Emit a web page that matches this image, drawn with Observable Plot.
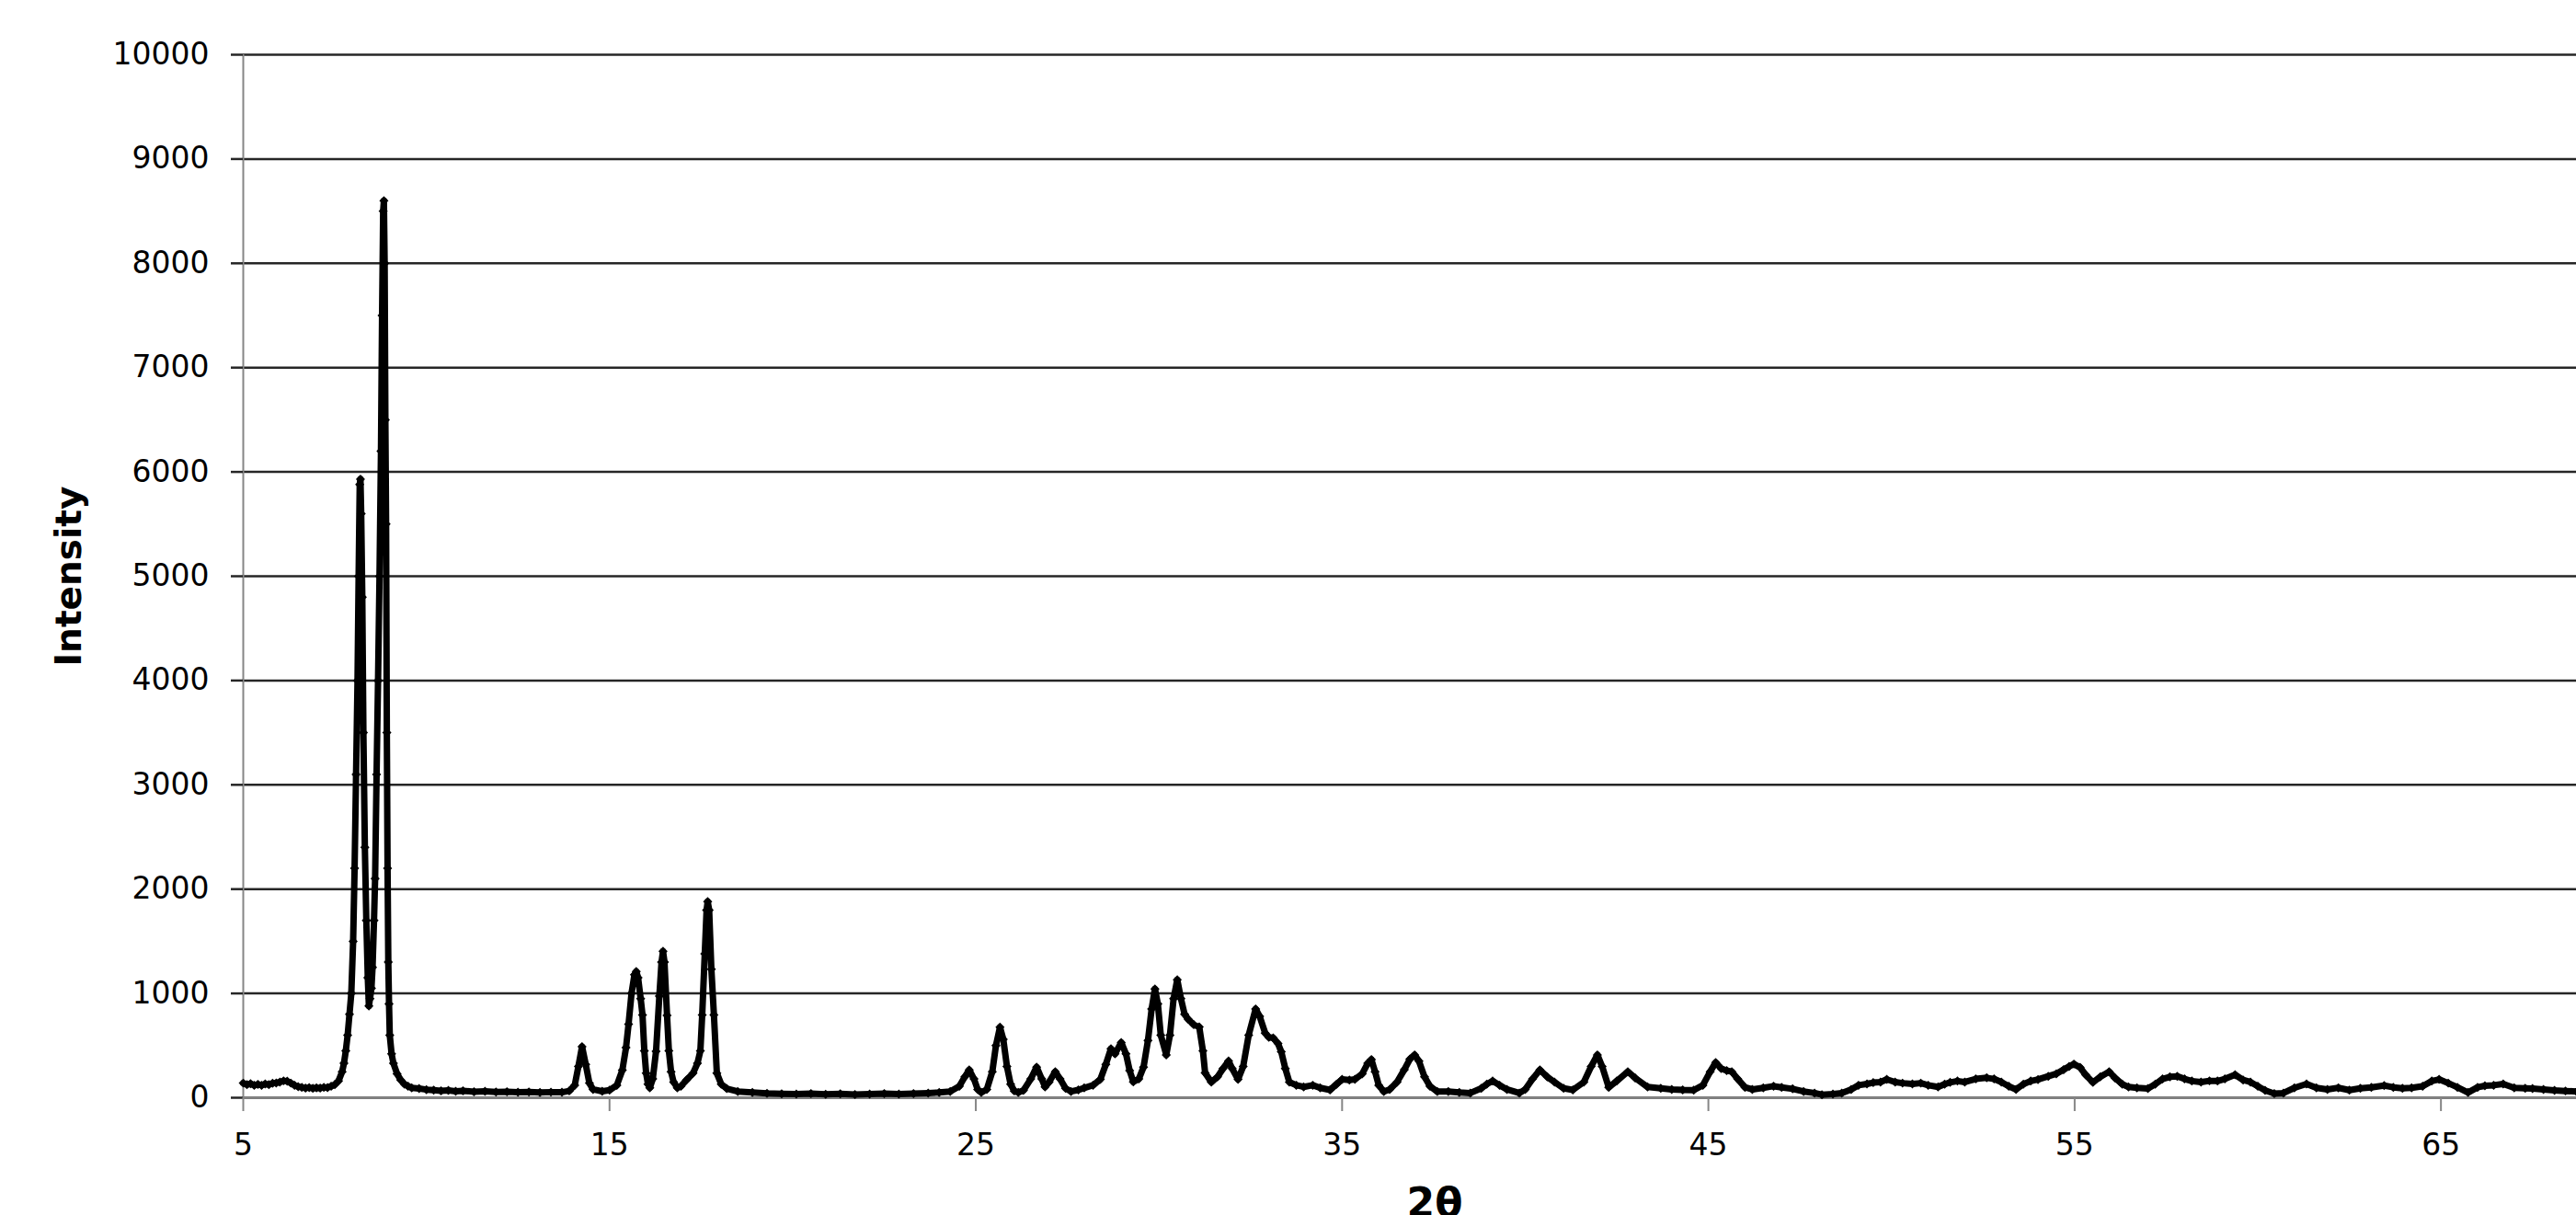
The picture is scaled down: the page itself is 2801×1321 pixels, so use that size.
<!DOCTYPE html>
<html>
<head>
<meta charset="utf-8">
<script src="https://cdn.jsdelivr.net/npm/d3@7"></script>
<script src="https://cdn.jsdelivr.net/npm/@observablehq/plot@0.6"></script>
<style>
  html, body { margin: 0; padding: 0; background: #fff; overflow: hidden; }
</style>
</head>
<body>
<div id="chart"></div>
<script>
// 2θ positions (degrees)
const twoTheta = [
  5.0, 5.1, 5.2, 5.3, 5.4, 5.5, 5.6, 5.7, 5.8, 5.9, 6.0, 6.1, 6.2, 6.3, 6.4, 6.5, 6.6, 6.7, 6.8, 6.9, 7.0, 7.1, 7.2, 7.3, 7.4, 7.5,
  7.6, 7.7, 7.75, 7.8, 7.85, 7.9, 7.95, 8.0, 8.04, 8.08, 8.12, 8.15, 8.18, 8.2, 8.22, 8.25, 8.28, 8.32, 8.36, 8.4, 8.43, 8.46, 8.5, 8.53, 8.57, 8.6, 8.64, 8.68, 8.72, 8.76, 8.79, 8.82, 8.84, 8.86, 8.88, 8.9, 8.92, 8.94, 8.96, 8.98, 9.0, 9.05, 9.1, 9.2, 9.3, 9.4, 9.5, 9.6,
  9.8, 10.0, 10.2, 10.4, 10.6, 10.8, 11.0, 11.3, 11.6, 11.9, 12.2, 12.5, 12.8, 13.1, 13.4, 13.7, 13.9,
  14.05, 14.15, 14.25, 14.35, 14.45, 14.55, 14.8, 15.0, 15.2, 15.35, 15.45, 15.52, 15.6, 15.68, 15.73, 15.78, 15.85, 15.9, 15.95, 16.0, 16.05, 16.1, 16.18, 16.27, 16.36, 16.42, 16.46, 16.5, 16.57, 16.62, 16.68, 16.75, 16.85, 16.95, 17.1, 17.28, 17.4, 17.48, 17.53, 17.6, 17.65, 17.68, 17.72, 17.78, 17.85, 17.93, 18.05, 18.2,
  18.5, 18.9, 19.3, 19.7, 20.1, 20.5, 20.9, 21.3, 21.7, 22.1, 22.5, 22.9, 23.3, 23.7, 24.0, 24.3,
  24.55, 24.7, 24.82, 24.95, 25.05, 25.15, 25.3, 25.45, 25.55, 25.66, 25.75, 25.85, 25.95, 26.05, 26.16, 26.3, 26.5, 26.66, 26.8, 26.89, 27.0, 27.17, 27.3, 27.45, 27.6, 27.8, 27.96, 28.2, 28.4, 28.55, 28.69, 28.8, 28.97, 29.1, 29.2, 29.3, 29.45, 29.58, 29.7, 29.8, 29.89, 29.97, 30.05, 30.2, 30.3, 30.4, 30.5, 30.6, 30.7, 30.8, 30.95, 31.1, 31.2, 31.26, 31.43, 31.6, 31.75, 31.9, 32.0, 32.16, 32.3, 32.45, 32.64, 32.75, 32.9, 33.0, 33.12, 33.25, 33.34, 33.45, 33.56, 33.75, 33.95, 34.2, 34.4, 34.67, 34.85,
  35.0, 35.2, 35.35, 35.55, 35.7, 35.8, 35.9, 36.0, 36.14, 36.3, 36.5, 36.7, 36.85, 36.98, 37.1, 37.25, 37.4, 37.6, 37.9, 38.2, 38.5, 38.8, 38.95, 39.11, 39.3, 39.5, 39.84, 40.0, 40.2, 40.4, 40.6, 40.8, 41.05, 41.3,
  41.6, 41.8, 41.97, 42.1, 42.28, 42.5, 42.8, 43.0, 43.34, 43.7, 44.0, 44.3, 44.6, 44.85, 45.05, 45.2, 45.35, 45.5, 45.64, 45.8, 46.0, 46.2, 46.5, 46.78, 47.0, 47.3, 47.6, 47.9, 48.1, 48.4, 48.64, 48.9,
  49.1, 49.33, 49.5, 49.7, 49.87, 50.1, 50.3, 50.57, 50.8, 51.0, 51.27, 51.45, 51.6, 51.8, 52.0, 52.3, 52.6, 52.8, 53.0, 53.2, 53.4, 53.6, 53.8, 54.0, 54.28, 54.5, 54.7, 54.85, 54.98, 55.15, 55.3, 55.5, 55.7, 55.94, 56.1, 56.3, 56.47, 56.7, 57.0, 57.2, 57.4, 57.6, 57.8, 58.0, 58.2, 58.45, 58.68, 58.9, 59.1, 59.38, 59.6, 59.8, 60.0, 60.2, 60.45, 60.7, 61.0, 61.33, 61.6, 61.9, 62.2, 62.5, 62.8, 63.1, 63.45, 63.7, 63.95, 64.2, 64.5, 64.75, 64.95, 65.2, 65.45, 65.74, 66.0, 66.2, 66.44, 66.7, 67.0, 67.3, 67.5, 67.8, 68.1, 68.4, 68.7
];
// Intensity (counts) at each 2θ position
const intensity = [
  140, 125, 135, 118, 128, 120, 132, 125, 138, 142, 150, 162, 158, 140, 120, 106, 100, 92, 98, 90, 95, 92, 100, 98, 110, 125,
  160, 250, 330, 450, 600, 800, 1000, 1500, 2200, 3100, 4000, 5000, 5880, 5930, 5600, 4800, 3500, 2400, 1700, 1150, 880, 950, 1050, 1250, 1700, 2100, 3100, 4000, 5000, 6200, 7500, 8500, 8600, 8000, 6500, 5500, 3500, 2200, 1300, 900, 600, 420, 330, 230, 170, 130, 110, 95,
  88, 78, 72, 66, 70, 62, 66, 58, 62, 55, 58, 52, 56, 50, 54, 52, 65,
  120, 300, 490, 320, 140, 80, 62, 72, 120, 265, 480, 706, 1000, 1180, 1210, 1150, 950, 794, 450, 235, 130, 95, 180, 445, 974, 1300, 1405, 1300, 790, 450, 250, 150, 95, 110, 170, 235, 330, 450, 794, 1380, 1800, 1880, 1800, 1233, 794, 235, 130, 88,
  60, 50, 42, 38, 35, 40, 33, 38, 30, 36, 40, 35, 40, 45, 50, 60,
  110, 200, 267, 180, 80, 50, 80, 250, 500, 676, 560, 300, 130, 65, 50, 70, 180, 294, 180, 104, 150, 250, 180, 90, 60, 75, 94, 120, 176, 320, 470, 420, 530, 420, 260, 153, 180, 294, 550, 850, 1043, 900, 600, 411, 600, 950, 1131, 950, 800, 752, 700, 678, 450, 238, 150, 200, 280, 353, 280, 176, 300, 600, 852, 780, 620, 580, 573, 520, 440, 280, 150, 120, 104, 120, 95, 75, 130,
  176, 170, 176, 230, 330, 367, 250, 120, 59, 80, 150, 270, 370, 411, 350, 200, 110, 59, 60, 50, 45, 90, 130, 161, 120, 80, 45, 80, 180, 267, 200, 150, 90, 75,
  150, 300, 411, 300, 100, 160, 250, 190, 103, 90, 80, 75, 73, 120, 250, 338, 280, 260, 250, 180, 100, 80, 95, 111, 100, 85, 60, 45, 29, 35, 44, 80,
  120, 132, 145, 150, 176, 150, 140, 132, 140, 120, 103, 130, 147, 160, 150, 180, 191, 180, 150, 110, 80, 130, 160, 175, 206, 230, 270, 300, 323, 290, 220, 147, 200, 250, 190, 130, 103, 95, 88, 130, 180, 200, 206, 180, 160, 150, 162, 160, 180, 220, 170, 150, 110, 70, 40, 45, 95, 132, 95, 80, 95, 73, 90, 100, 117, 100, 90, 95, 110, 160, 176, 140, 100, 50, 100, 115, 120, 132, 95, 90, 88, 80, 70, 65, 60
];
const yTicks = [0, 1000, 2000, 3000, 4000, 5000, 6000, 7000, 8000, 9000, 10000];
const xTicks = [5, 15, 25, 35, 45, 55, 65];
const xTitle = "2θ";
const yTitle = "Intensity";

const data = twoTheta.map((t, i) => ({t, v: intensity[i]}));

const chart = Plot.plot({
  width: 2801,
  height: 1321,
  marginLeft: 264,
  marginRight: 0,
  marginTop: 59,
  marginBottom: 128,
  style: {fontFamily: "DejaVu Sans", fontSize: "33px", color: "#000", background: "#fff"},
  x: {domain: [5, 68.70]},
  y: {domain: [0, 10000]},
  marks: [
    Plot.ruleY(yTicks, {stroke: "#262626", strokeWidth: 2.5}),
    Plot.ruleX([5], {stroke: "#868686", strokeWidth: 2}),
    Plot.ruleY([0], {stroke: "#868686", strokeWidth: 2.5}),
    Plot.axisY({ticks: yTicks, tickSize: 13, tickPadding: 24, stroke: "#262626", strokeWidth: 2.5, fill: "#000", label: null, tickFormat: d => String(d)}),
    Plot.axisX({ticks: xTicks, tickSize: 15, tickPadding: 24, stroke: "#868686", strokeWidth: 2, fill: "#000", label: null, tickFormat: d => String(d)}),
    Plot.line(data, {x: "t", y: "v", stroke: "#000", strokeWidth: 7}),
    Plot.dot(data, {x: "t", y: "v", symbol: "diamond2", r: 4.5, fill: "#000", stroke: "none"}),
    Plot.text([yTitle], {frameAnchor: "left", textAnchor: "middle", lineAnchor: "middle", dx: -189, rotate: -90, fontSize: 39, fontWeight: "bold", fill: "#000"}),
    Plot.text([xTitle], {frameAnchor: "bottom", textAnchor: "middle", lineAnchor: "bottom", dx: 27, dy: 129, fontSize: 44, fontWeight: "bold", fill: "#000"})
  ]
});
document.getElementById("chart").appendChild(chart);
</script>
</body>
</html>
